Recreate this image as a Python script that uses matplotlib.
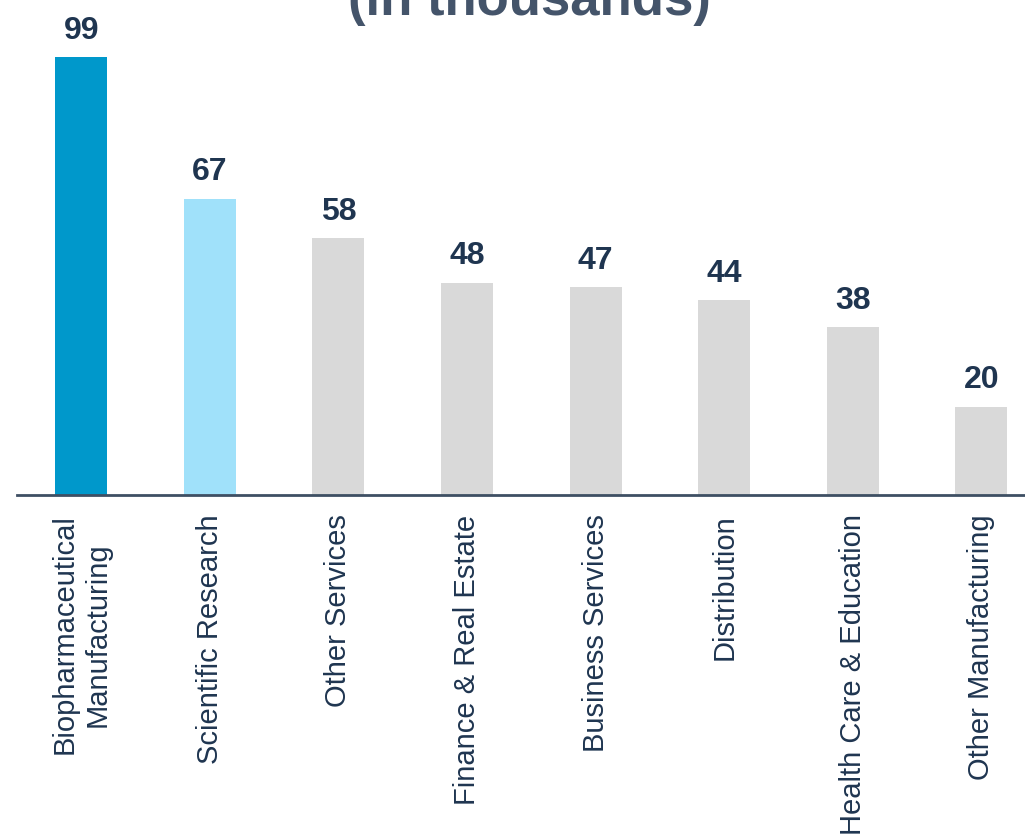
import matplotlib.pyplot as plt
import numpy as np

plt.rcParams['font.family'] = ['Liberation Sans', 'DejaVu Sans']

categories = [
    "Biopharmaceutical\nManufacturing",
    "Scientific Research",
    "Other Services",
    "Finance & Real Estate",
    "Business Services",
    "Distribution",
    "Health Care & Education",
    "Other Manufacturing",
]
values = [99, 67, 58, 48, 47, 44, 38, 20]
bar_colors = ["#0098CB", "#A0E1FA"] + ["#D9D9D9"] * 6

text_color = "#1F3550"
axis_color = "#3E4F63"

fig = plt.figure(figsize=(10.25, 8.34), dpi=100)
ax = fig.add_axes([17 / 1025, 1 - 495 / 834, 1 - 17 / 1025, 438 / 834])

x = np.arange(len(categories))
bars = ax.bar(x, values, width=0.405, color=bar_colors)
for b, v in zip(bars, values):
    ax.text(b.get_x() + b.get_width() / 2, v + 4.1, str(v), ha="center", va="baseline",
            fontsize=23, fontweight="bold", color=text_color)

ax.set_xlim(-0.5, 7.34)
ax.set_ylim(0, 99)
ax.set_xticks(x)
ax.set_xticklabels(categories, rotation=90, fontsize=21, color=text_color,
                   multialignment="center", va="top", ha="center")
ax.tick_params(axis="x", length=0, pad=14)
ax.set_yticks([])
for side in ["top", "right", "left"]:
    ax.spines[side].set_visible(False)
ax.spines["bottom"].set_color(axis_color)
ax.spines["bottom"].set_linewidth(2)

fig.text(0.517, 1 - 15 / 834, "(in thousands)", ha="center", va="baseline",
         fontsize=38, fontweight="bold", color="#44546A")

fig.savefig("out.png", dpi=100)
